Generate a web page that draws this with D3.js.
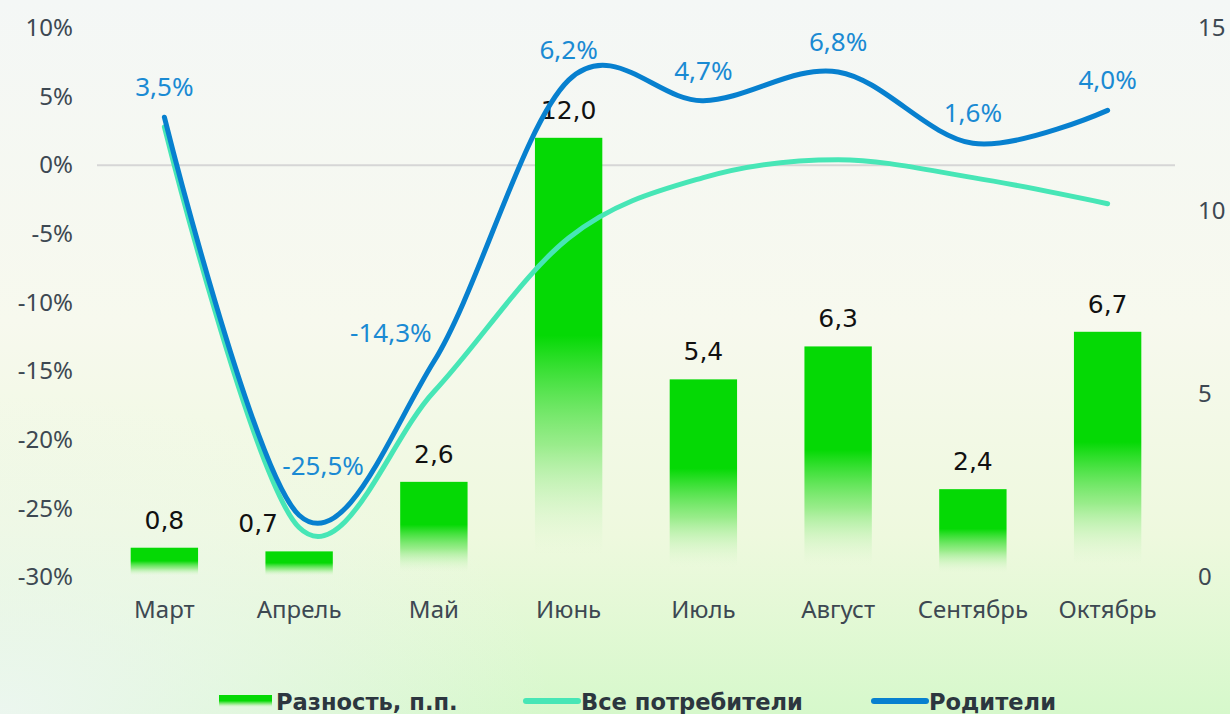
<!DOCTYPE html>
<html>
<head>
<meta charset="utf-8">
<script src="https://cdn.jsdelivr.net/npm/d3@7"></script>
<style>
  html, body { margin: 0; padding: 0; }
  body { width: 1230px; height: 714px; overflow: hidden; }
</style>
</head>
<body>
<script>
// chart values
const months = ["Март", "Апрель", "Май", "Июнь", "Июль", "Август", "Сентябрь", "Октябрь"];
const difference = [0.8, 0.7, 2.6, 12.0, 5.4, 6.3, 2.4, 6.7];
const allConsumers = [2.8, -26.4, -16.5, -5.3, -0.9, 0.4, -0.9, -2.8];
const parents = [3.5, -25.5, -14.3, 6.2, 4.7, 6.8, 1.6, 4.0];
const leftTicks = [10, 5, 0, -5, -10, -15, -20, -25, -30];
const rightTicks = [15, 10, 5, 0];

const width = 1230, height = 714;
const plot = { left: 97, right: 1175, top: 28, bottom: 577 };

const svg = d3.select("body").append("svg")
    .attr("width", width)
    .attr("height", height);

const defs = svg.append("defs");

// soft background
const bg = defs.append("linearGradient").attr("id", "bg")
    .attr("x1", 0).attr("y1", 0).attr("x2", 0).attr("y2", 1);
bg.append("stop").attr("offset", "0%").attr("stop-color", "#f4f7f6");
bg.append("stop").attr("offset", "45%").attr("stop-color", "#f7f9ee");
bg.append("stop").attr("offset", "75%").attr("stop-color", "#eef9de");
bg.append("stop").attr("offset", "100%").attr("stop-color", "#d6f8cb");

const corner = defs.append("radialGradient").attr("id", "corner")
    .attr("cx", 0).attr("cy", 1).attr("r", 0.45);
corner.append("stop").attr("offset", "0%").attr("stop-color", "#eef6f3").attr("stop-opacity", 0.9);
corner.append("stop").attr("offset", "100%").attr("stop-color", "#eef6f3").attr("stop-opacity", 0);

// bar fill: solid on top, fading out towards the base
const barFill = defs.append("linearGradient").attr("id", "barFill")
    .attr("x1", 0).attr("y1", 0).attr("x2", 0).attr("y2", 1);
barFill.append("stop").attr("offset", "0%").attr("stop-color", "#05d905");
barFill.append("stop").attr("offset", "45%").attr("stop-color", "#05d905");
barFill.append("stop").attr("offset", "70%").attr("stop-color", "#7ce86e").attr("stop-opacity", 0.75);
barFill.append("stop").attr("offset", "95%").attr("stop-color", "#d8f6cc").attr("stop-opacity", 0);

svg.append("rect").attr("width", width).attr("height", height).attr("fill", "url(#bg)");
svg.append("rect").attr("width", width).attr("height", height).attr("fill", "url(#corner)");

const x = d3.scaleBand()
    .domain(months)
    .range([plot.left, plot.right])
    .paddingInner(0.5)
    .paddingOuter(0.25);

const yLeft = d3.scaleLinear().domain([-30, 10]).range([plot.bottom, plot.top]);
const yRight = d3.scaleLinear().domain([0, 15]).range([plot.bottom, plot.top]);

const fmt = d3.formatLocale({ decimal: ",", thousands: " ", grouping: [3], currency: ["", ""], minus: "-" });
const fmtOne = fmt.format(".1f");

const tickColor = "#3d4852";
const tickFont = "'Noto Sans', sans-serif";

// left axis
const leftAxis = svg.append("g")
    .attr("transform", `translate(${plot.left - 24},0)`)
    .call(d3.axisLeft(yLeft).tickValues(leftTicks).tickSize(0).tickPadding(0)
        .tickFormat(d => d + "%"));
leftAxis.select(".domain").remove();
leftAxis.selectAll("text")
    .attr("fill", tickColor)
    .style("font-family", tickFont)
    .style("font-size", "24px");

// right axis
const rightAxis = svg.append("g")
    .attr("transform", `translate(${plot.right + 23},0)`)
    .call(d3.axisRight(yRight).tickValues(rightTicks).tickSize(0).tickPadding(0));
rightAxis.select(".domain").remove();
rightAxis.selectAll("text")
    .attr("fill", tickColor)
    .style("font-family", tickFont)
    .style("font-size", "24px");

// zero line
svg.append("line")
    .attr("x1", plot.left).attr("x2", plot.right)
    .attr("y1", yLeft(0)).attr("y2", yLeft(0))
    .attr("stroke", "#d6d6d6")
    .attr("stroke-width", 2);

// category axis
const bottomAxis = svg.append("g")
    .attr("transform", `translate(0,${plot.bottom + 24})`)
    .call(d3.axisBottom(x).tickSize(0).tickPadding(0));
bottomAxis.select(".domain").remove();
bottomAxis.selectAll("text")
    .attr("fill", tickColor)
    .style("font-family", tickFont)
    .style("font-size", "24px");

// bars
svg.append("g").selectAll("rect")
    .data(difference)
    .join("rect")
    .attr("x", (d, i) => x(months[i]))
    .attr("width", x.bandwidth())
    .attr("y", d => yRight(d))
    .attr("height", d => yRight(0) - yRight(d))
    .attr("fill", "url(#barFill)");

// bar labels (April label pushed left, away from the curves)
const barNudge = [0, -41, 0, 0, 0, 0, 0, 0];
svg.append("g").selectAll("text")
    .data(difference)
    .join("text")
    .attr("x", (d, i) => x(months[i]) + x.bandwidth() / 2 + barNudge[i])
    .attr("y", d => yRight(d) - 19)
    .attr("text-anchor", "middle")
    .attr("fill", "#111")
    .style("font-family", "'DejaVu Sans', sans-serif")
    .style("font-size", "25px")
    .text(d => fmtOne(d));

const cx = (d, i) => x(months[i]) + x.bandwidth() / 2;

// Excel-like smoothing
const line = d3.line()
    .x(cx)
    .curve(d3.curveCardinal.tension(0));

svg.append("path")
    .datum(allConsumers)
    .attr("d", line.y(d => yLeft(d)))
    .attr("fill", "none")
    .attr("stroke", "#47e6b6")
    .attr("stroke-width", 5)
    .attr("stroke-linecap", "round");

svg.append("path")
    .datum(parents)
    .attr("d", line.y(d => yLeft(d)))
    .attr("fill", "none")
    .attr("stroke", "#0780cf")
    .attr("stroke-width", 5)
    .attr("stroke-linecap", "round");

// parents labels
const labelNudge = [[0, 0], [24, -19], [-43, 1], [0, 0], [0, 0], [0, 0], [0, 0], [0, 0]];
svg.append("g").selectAll("text")
    .data(parents)
    .join("text")
    .attr("x", (d, i) => cx(d, i) + labelNudge[i][0])
    .attr("y", (d, i) => yLeft(d) - 21 + labelNudge[i][1])
    .attr("text-anchor", "middle")
    .attr("fill", "#1a8ad3")
    .style("font-family", tickFont)
    .style("font-size", "26px")
    .text(d => fmtOne(d) + "%");

// legend
const legendItems = [
    { name: "Разность, п.п.", swatch: "bar" },
    { name: "Все потребители", color: "#47e6b6" },
    { name: "Родители", color: "#0780cf" }
];
const legendX = [219, 524, 872];
const legend = svg.append("g").selectAll("g")
    .data(legendItems)
    .join("g")
    .attr("transform", (d, i) => `translate(${legendX[i]},701)`);

legend.filter(d => d.swatch === "bar").append("rect")
    .attr("x", 0).attr("y", -6).attr("width", 53).attr("height", 13)
    .attr("fill", "url(#barFill)");
legend.filter(d => d.swatch !== "bar").append("line")
    .attr("x1", 2).attr("x2", 54).attr("y1", 0).attr("y2", 0)
    .attr("stroke", d => d.color)
    .attr("stroke-width", 6)
    .attr("stroke-linecap", "round");
legend.append("text")
    .attr("x", 57)
    .attr("y", 9)
    .attr("fill", "#2c363f")
    .style("font-family", "'DejaVu Sans', sans-serif")
    .style("font-weight", "bold")
    .style("font-size", "22.6px")
    .text(d => d.name);
</script>
</body>
</html>
